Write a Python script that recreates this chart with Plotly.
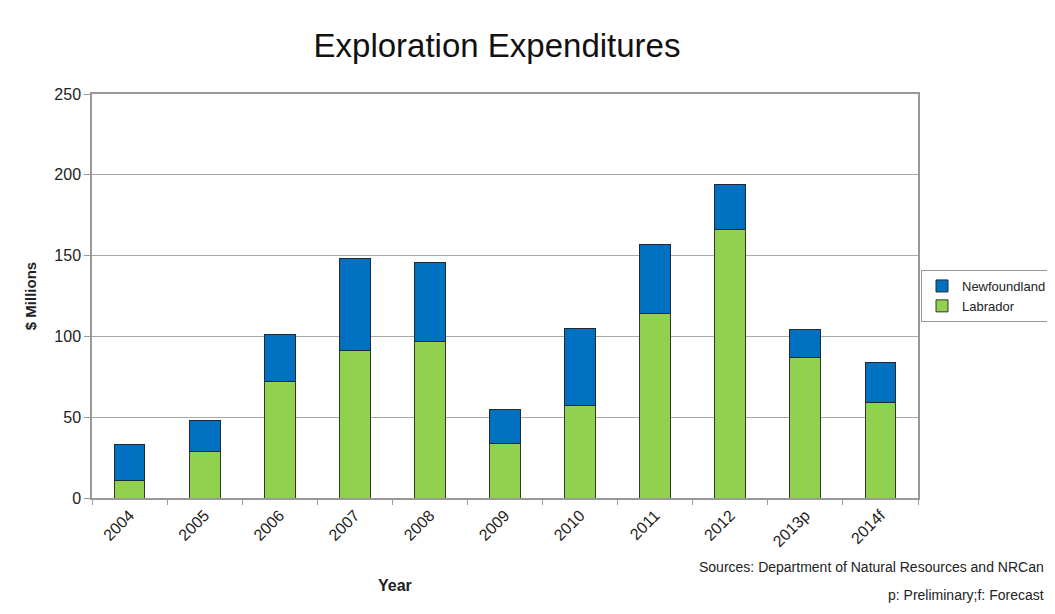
import plotly.graph_objects as go

years = ["2004", "2005", "2006", "2007", "2008", "2009", "2010", "2011", "2012", "2013p", "2014f"]
labrador = [11, 29, 72, 91, 97, 34, 57, 114, 166, 87, 59]
newfoundland = [22, 19, 29, 57, 49, 21, 48, 43, 28, 17, 25]

fig = go.Figure()
fig.add_trace(go.Bar(x=years, y=labrador, name="Labrador", legendgroup="lab",
                     marker=dict(color="#92D050", line=dict(color="#2f3a22", width=1))))
fig.add_trace(go.Bar(x=years, y=newfoundland, name="Newfoundland", legendgroup="nfl",
                     marker=dict(color="#0070C0", line=dict(color="#1f2a33", width=1))))

font = "Liberation Sans, Arial, sans-serif"
W, H = 1039, 598
L, T = 84, 86
R, B = W - 910, H - 490
PW, PH = W - L - R, H - T - B

fig.update_layout(
    width=W, height=H,
    barmode="stack", bargap=0.59,
    paper_bgcolor="white", plot_bgcolor="white",
    margin=dict(l=L, r=R, t=T, b=B, autoexpand=False),
    font=dict(family=font, color="#222", size=14),
    title=dict(text="Exploration Expenditures", x=489 / W, xanchor="center",
               y=1 - 37 / H, yanchor="middle",
               font=dict(family=font, size=33, color="#111")),
    legend=dict(x=(913 - L) / PW, y=1 - (288 - T) / PH, xanchor="left", yanchor="middle",
                traceorder="reversed", bordercolor="#999", borderwidth=1,
                font=dict(size=13), itemwidth=30, tracegroupgap=5),
    showlegend=True,
)
fig.update_xaxes(showline=True, linecolor="#999", linewidth=1.5, mirror=True,
                 ticks="outside", tickson="boundaries", ticklen=5, tickcolor="#999",
                 tickangle=-45, tickfont=dict(size=16))
fig.update_yaxes(range=[0, 250], dtick=50, showgrid=True, gridcolor="#a8a8a8", gridwidth=1,
                 showline=True, linecolor="#999", linewidth=1.5, mirror=True,
                 ticks="outside", ticklen=6, tickcolor="#999", tickfont=dict(size=16),
                 title=dict(text="<b>$ Millions</b>", font=dict(size=15), standoff=14))
fig.add_annotation(text="<b>Year</b>", xref="paper", yref="paper",
                   x=(387 - L) / PW, y=1 - (577 - T) / PH, xanchor="center", yanchor="middle",
                   showarrow=False, font=dict(size=16, color="#222"))
fig.add_annotation(text="Sources: Department of Natural Resources and NRCan", xref="paper", yref="paper",
                   x=(1038 - L) / PW, y=1 - (559 - T) / PH, xanchor="right", yanchor="middle",
                   showarrow=False, font=dict(size=14, color="#222"))
fig.add_annotation(text="p: Preliminary;f: Forecast", xref="paper", yref="paper",
                   x=(1038 - L) / PW, y=1 - (H - 1 - T) / PH, xanchor="right", yanchor="bottom",
                   showarrow=False, font=dict(size=14, color="#222"))
fig.write_html("out.html")
